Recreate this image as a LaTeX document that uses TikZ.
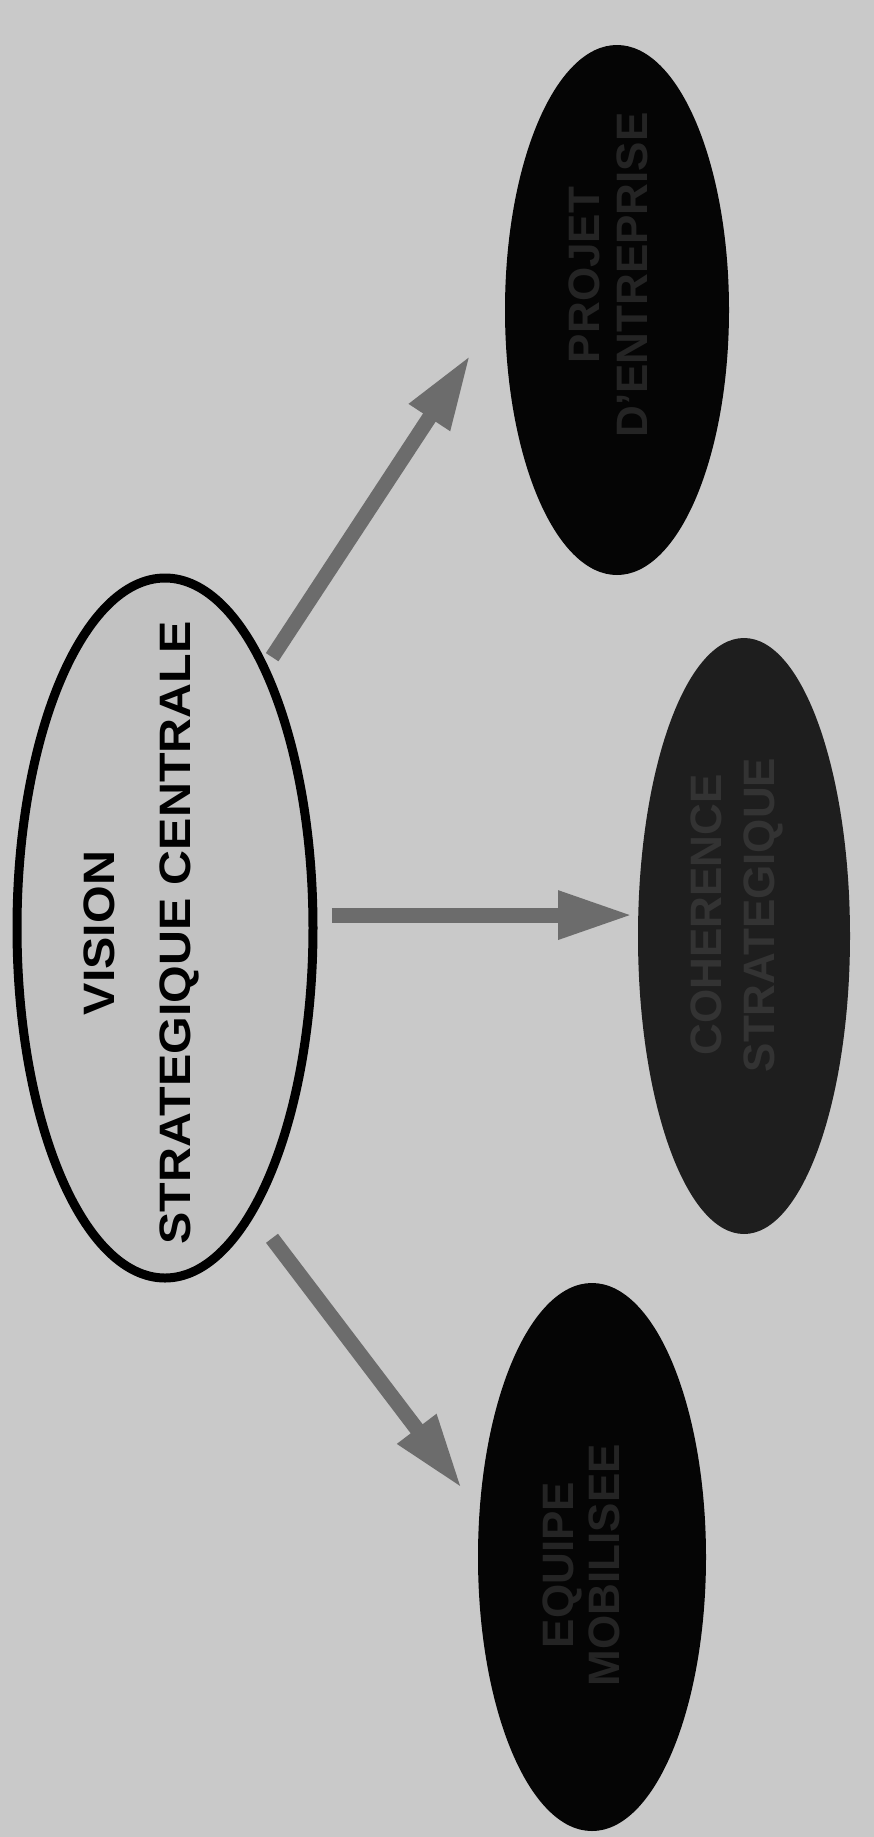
\documentclass[tikz,border=0pt]{standalone}
\usepackage{fontspec}
\setmainfont{Liberation Sans}
\newfontfamily\widesans[FakeStretch=1.1]{Liberation Sans}
\usetikzlibrary{arrows.meta,shapes.geometric}
\definecolor{bg}{HTML}{C9C9C9}
\definecolor{visfill}{HTML}{C2C2C2}
\definecolor{arrowgray}{HTML}{6C6C6C}
\definecolor{darkfill}{HTML}{050505}
\definecolor{midfill}{HTML}{1E1E1E}
\definecolor{faint}{HTML}{242424}
\definecolor{faintmid}{HTML}{333333}
\begin{document}
\begin{tikzpicture}[x=1pt,y=-1pt,
  oval/.style={ellipse, inner sep=0pt, outer sep=0pt},
  visionoval/.style={oval, draw=black, line width=9pt, fill=visfill, minimum width=296pt, minimum height=700pt},
  darkoval/.style={oval, fill=darkfill},
  maintext/.style={rotate=90, align=center, font=\widesans\bfseries\fontsize{44}{76}\selectfont},
  darktext/.style={rotate=90, align=center, text=faint},
  flow/.style={draw=arrowgray, line width=15pt, -{Triangle[length=75pt,width=45pt]}}
]
\fill[bg] (0,0) rectangle (874,1837);
\useasboundingbox (0,0) rectangle (874,1837);

\node[visionoval] (vision) at (165,928) {};
\node[darkoval, minimum width=224pt, minimum height=530pt] (topo) at (617,310) {};
\node[darkoval, fill=midfill, minimum width=212pt, minimum height=596pt] (mido) at (744,936) {};
\node[darkoval, minimum width=228pt, minimum height=548pt] (boto) at (592,1557) {};

\node[maintext] (visiontext) at (141,933) {VISION\\STRATEGIQUE CENTRALE};
\node[darktext, font=\bfseries\fontsize{44}{48}\selectfont] (toptext) at (608,275) {PROJET\\D'ENTREPRISE};
\node[darktext, text=faintmid, font=\bfseries\fontsize{44}{53}\selectfont] (midtext) at (737,915) {COHERENCE\\STRATEGIQUE};
\node[darktext, font=\bfseries\fontsize{44}{46}\selectfont] (bottext) at (581,1565) {EQUIPE\\MOBILISEE};

\draw[flow, shorten <=14pt, shorten >=63pt] (vision.69.8) -- (topo.176.3);
\draw[flow, shorten <=19pt, shorten >=5pt] (vision.5) -- (vision.5 -| mido.west);
\draw[flow, shorten <=33.5pt, shorten >=29pt] (vision.287) -- (boto.158.7);
\end{tikzpicture}
\end{document}
